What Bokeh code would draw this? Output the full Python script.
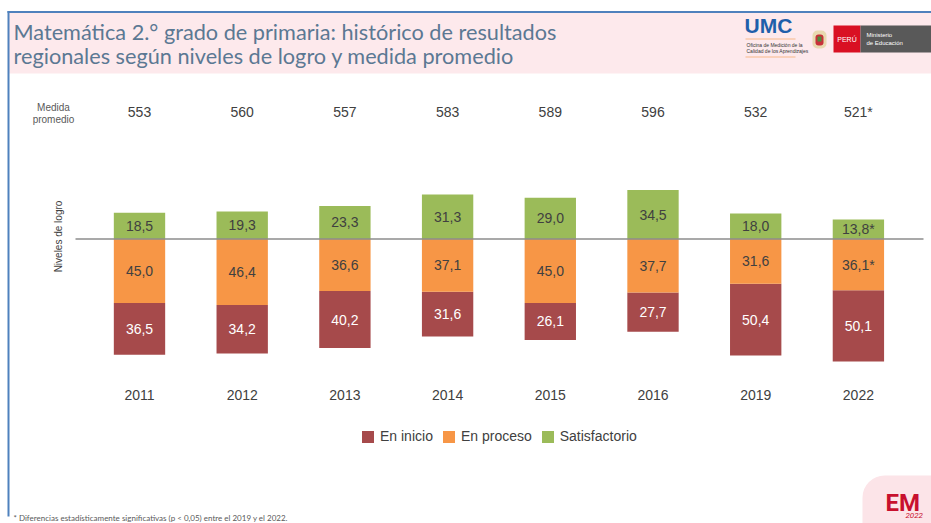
from bokeh.plotting import figure
from bokeh.models import (Range1d, ColumnDataSource, Label, BoxAnnotation,
                          Legend, LegendItem)
from bokeh.core.properties import value
from bokeh.embed import file_html
from bokeh.resources import INLINE

# ---------------- data ----------------
years = ["2011", "2012", "2013", "2014", "2015", "2016", "2019", "2022"]
en_inicio = [36.5, 34.2, 40.2, 31.6, 26.1, 27.7, 50.4, 50.1]
en_proceso = [45.0, 46.4, 36.6, 37.1, 45.0, 37.7, 31.6, 36.1]
satisfactorio = [18.5, 19.3, 23.3, 31.3, 29.0, 34.5, 18.0, 13.8]
medida_promedio = [553, 560, 557, 583, 589, 596, 532, 521]
star_medida = ["", "", "", "", "", "", "", "*"]
star_proceso = ["", "", "", "", "", "", "", "*"]
star_satis = ["", "", "", "", "", "", "", "*"]
star_inicio = ["", "", "", "", "", "", "", ""]
series_names = ["En inicio", "En proceso", "Satisfactorio"]
colors = ["#A64A4B", "#F79646", "#9BBB59"]

title_lines = ["Matemática 2.° grado de primaria: histórico de resultados",
               "regionales según niveles de logro y medida promedio"]
footnote = "*  Diferencias estadísticamente significativas (p < 0,05) entre el 2019 y el 2022."

# ---------------- geometry (page pixels -> data) ----------------
W, H = 931, 523
CAT_PX = 102.7
X0 = 139.0
BASE = 238.5
SC = 1.42


def px2x(px):
    return (px - X0) / CAT_PX


def px2y(py):
    return (BASE - py) / SC


FONT = "Liberation Sans"
DARK = "#404040"

p = figure(width=W, height=H, output_backend="svg", toolbar_location=None,
           x_range=Range1d(px2x(0), px2x(W)),
           y_range=Range1d(px2y(H), px2y(0)),
           x_axis_location=None, y_axis_location=None, min_border=0,
           outline_line_color=None, background_fill_color="white",
           border_fill_color="white")
p.grid.visible = False


def box(l, r, t, b, color, **kw):
    bx = BoxAnnotation(left=px2x(l), right=px2x(r), top=px2y(t), bottom=px2y(b),
                       fill_color=color, fill_alpha=1, line_color=None, **kw)
    p.add_layout(bx)
    return bx


def label(x, y, text, size, color=DARK, font=FONT, align="left",
          baseline="middle", style="normal", angle=0):
    lb = Label(x=px2x(x), y=px2y(y), text=text, text_font=font,
               text_font_size=size, text_color=color, text_align=align,
               text_baseline=baseline, text_font_style=style, angle=angle)
    p.add_layout(lb)
    return lb


# ---------------- slide decorations ----------------
box(8, 931, 73, 12.5, "#FDE9EC")               # pink title band
box(7, 931, 12.5, 10.5, "#4F81BD")             # top blue line
box(7, 9, 516, 10.5, "#4F81BD")                # left blue line

label(13, 31, title_lines[0], "21.7px", color="#5B7893", font="Lato",
      baseline="alphabetic")
label(13, 55.5, title_lines[1], "21.7px", color="#5B7893", font="Lato",
      baseline="alphabetic")

# UMC logo
label(744, 25, "UMC", "21px", color="#1F5FAA", baseline="alphabetic",
      style="bold")
box(745, 795, 39, 38, "#F7B98A")
label(746, 44, "Oficina de Medición de la", "5px", color="#333333")
label(746, 50, "Calidad de los Aprendizajes", "5px", color="#333333")
box(745, 795, 57, 56, "#F7B98A")
# coat of arms (simplified)
box(812, 826, 30, 48, "#E8D9B0", border_radius=5)
box(815, 823, 34, 45, "#C8313A", border_radius=3)
box(817, 821, 36, 41, "#4E8A3B")
# PERÚ / Ministerio de Educación
box(833, 860, 25, 52, "#D91023")
label(846.5, 38.5, "PERÚ", "7px", color="white", align="center")
box(860, 931, 25, 52, "#595959")
label(866, 34.5, "Ministerio", "6px", color="white")
label(866, 42, "de Educación", "6px", color="white")

# EM logo
box(862, 980, 475, 580, "#FCE4E8", border_radius=22)
label(885, 502.5, "EM", "24px", color="#C8102E", font="Roboto",
      baseline="middle", style="bold")
label(905, 515, "2022", "8px", color="#C8102E", font="Roboto",
      baseline="middle", style="italic")

# footnote
label(13, 517, footnote, "8px", color="#595959", font="Lato")

# ---------------- chart ----------------
xs = list(range(len(years)))
src = ColumnDataSource(dict(
    x=xs,
    inicio_top=[-pr for pr in en_proceso],
    inicio_bot=[-(pr + ini) for pr, ini in zip(en_proceso, en_inicio)],
    proceso_top=[0.0] * len(xs),
    proceso_bot=[-pr for pr in en_proceso],
    satis_top=satisfactorio,
    satis_bot=[0.0] * len(xs),
))

r_ini = p.vbar(x="x", width=0.5, top="inicio_top", bottom="inicio_bot",
               source=src, fill_color=colors[0], line_color=None)
r_pro = p.vbar(x="x", width=0.5, top="proceso_top", bottom="proceso_bot",
               source=src, fill_color=colors[1], line_color=None)
r_sat = p.vbar(x="x", width=0.5, top="satis_top", bottom="satis_bot",
               source=src, fill_color=colors[2], line_color=None)

# zero line
p.line(x=[px2x(75), px2x(923)], y=[0, 0], line_color="#8C8C8C", line_width=1.5)


def fmt(v):
    return f"{v:.1f}".replace(".", ",")


lab = ColumnDataSource(dict(
    x=xs,
    y_ini=[-(pr + ini / 2) for pr, ini in zip(en_proceso, en_inicio)],
    t_ini=[fmt(v) + s for v, s in zip(en_inicio, star_inicio)],
    y_pro=[-pr / 2 for pr in en_proceso],
    t_pro=[fmt(v) + s for v, s in zip(en_proceso, star_proceso)],
    y_sat=[s / 2 for s in satisfactorio],
    t_sat=[fmt(v) + s for v, s in zip(satisfactorio, star_satis)],
    y_med=[px2y(111.5)] * len(xs),
    t_med=[f"{m}{s}" for m, s in zip(medida_promedio, star_medida)],
    y_year=[px2y(394)] * len(xs),
    t_year=years,
))

common = dict(source=lab, text_font=value(FONT), text_font_size="14px",
              text_align="center", text_baseline="middle")
p.text(x="x", y="y_ini", text="t_ini", text_color="#FFFFFF", **common)
p.text(x="x", y="y_pro", text="t_pro", text_color=DARK, **common)
p.text(x="x", y="y_sat", text="t_sat", text_color=DARK, **common)
p.text(x="x", y="y_med", text="t_med", text_color=DARK, **common)
p.text(x="x", y="y_year", text="t_year", text_color=DARK, **common)

label(53, 106.5, "Medida", "10px", color="#595959", align="center")
label(53, 119, "promedio", "10px", color="#595959", align="center")
label(58, 236, "Niveles de logro", "10px", color="#404040", align="center",
      angle=1.5707963)

legend = Legend(items=[LegendItem(label=series_names[0], renderers=[r_ini]),
                       LegendItem(label=series_names[1], renderers=[r_pro]),
                       LegendItem(label=series_names[2], renderers=[r_sat])],
                orientation="horizontal", location=(360, 79),
                glyph_width=15, glyph_height=15, label_standoff=5, spacing=8,
                padding=0, margin=0, border_line_color=None,
                background_fill_alpha=0, label_text_font=FONT,
                label_text_font_size="14px", label_text_color=DARK)
p.add_layout(legend, "center")

open("out.html", "w").write(file_html(p, INLINE))
